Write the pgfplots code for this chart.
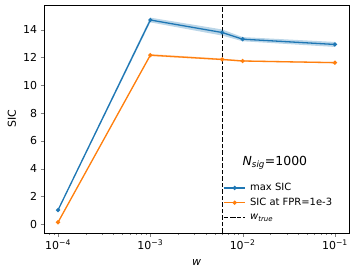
\documentclass[border=0pt]{standalone}
\usepackage{fontspec}
\setmainfont{DejaVu Sans}
\usepackage{pgfplots}
\pgfplotsset{compat=1.18}
\usepgfplotslibrary{fillbetween}
\definecolor{tabblue}{HTML}{1F77B4}
\definecolor{taborange}{HTML}{FF7F0E}
\begin{document}
\begin{tikzpicture}
\begin{semilogxaxis}[
  anchor=south west, at={(0,0)},
  scale only axis,
  width=305bp, height=228bp,
  xmin=7.05e-5, xmax=0.142,
  ymin=-0.63, ymax=15.78,
  xtick={1e-4,1e-3,1e-2,1e-1},
  xticklabels={10\textsuperscript{−4},10\textsuperscript{−3},10\textsuperscript{−2},10\textsuperscript{−1}},
  minor xtick={8e-5,9e-5,2e-4,3e-4,4e-4,5e-4,6e-4,7e-4,8e-4,9e-4,2e-3,3e-3,4e-3,5e-3,6e-3,7e-3,8e-3,9e-3,2e-2,3e-2,4e-2,5e-2,6e-2,7e-2,8e-2,9e-2},
  ytick={0,2,...,14},
  /pgf/number format/assume math mode=true,
  tick label style={font=\fontsize{11}{13}\selectfont},
  tick align=outside,
  xtick pos=bottom, ytick pos=left,
  major tick length=3.5bp, minor tick length=2bp,
  xlabel={\textit{w}}, ylabel={SIC},
  label style={font=\fontsize{11}{13}\selectfont},
  xlabel style={at={(rel axis cs:0.5,0)}, anchor=center, yshift=-30bp},
  ylabel style={at={(rel axis cs:0,0.5)}, anchor=center, yshift=32bp},
  legend style={draw=none, fill=none, inner sep=0pt, at={(0.587,0.218)}, anchor=north west, font=\fontsize{10}{12}\selectfont, row sep=5.7bp, column sep=0pt, nodes={inner xsep=4bp, inner ysep=0pt, text height=7bp, text depth=2bp}},
  legend cell align=left,
  legend image code/.code={\draw[mark repeat=2, mark phase=2, #1] plot coordinates {(0bp,0bp) (10.8bp,0bp) (21.6bp,0bp)};},
]
\addplot[name path=bu, draw=none, forget plot] coordinates {(1e-4,1.07) (1e-3,14.87) (6e-3,14.02) (1e-2,13.47) (1e-1,13.12)};
\addplot[name path=bl, draw=none, forget plot] coordinates {(1e-4,0.97) (1e-3,14.53) (6e-3,13.58) (1e-2,13.17) (1e-1,12.76)};
\addplot[tabblue, opacity=0.3, forget plot] fill between[of=bu and bl];
\addplot[name path=ou, draw=none, forget plot] coordinates {(1e-4,0.19) (1e-3,12.25) (6e-3,11.93) (1e-2,11.80) (1e-1,11.68)};
\addplot[name path=ol, draw=none, forget plot] coordinates {(1e-4,0.09) (1e-3,12.10) (6e-3,11.80) (1e-2,11.70) (1e-1,11.58)};
\addplot[taborange, opacity=0.3, forget plot] fill between[of=ou and ol];
\addplot[tabblue, line width=1.3bp, mark=*, mark size=1.4bp] coordinates {(1e-4,1.02) (1e-3,14.70) (6e-3,13.80) (1e-2,13.32) (1e-1,12.94)};
\addlegendentry{max SIC}
\addplot[taborange, line width=1.3bp, mark=*, mark size=1.4bp] coordinates {(1e-4,0.14) (1e-3,12.17) (6e-3,11.86) (1e-2,11.75) (1e-1,11.63)};
\addlegendentry{SIC at FPR=1e-3}
\addplot[black, line width=1.2bp, dash pattern=on 4.5bp off 2bp] coordinates {(6.07e-3,-0.63) (6.07e-3,15.78)};
\addlegendentry{\textit{w}\textsubscript{\textit{true}}}
\node[font=\fontsize{12.5}{15}\selectfont] at (rel axis cs:0.757,0.307) {\textit{N}\textsubscript{\textit{sig}}=1000};
\end{semilogxaxis}
\pgfresetboundingbox
\useasboundingbox (-44bp,-41bp) rectangle (313bp,233bp);
\end{tikzpicture}
\end{document}
